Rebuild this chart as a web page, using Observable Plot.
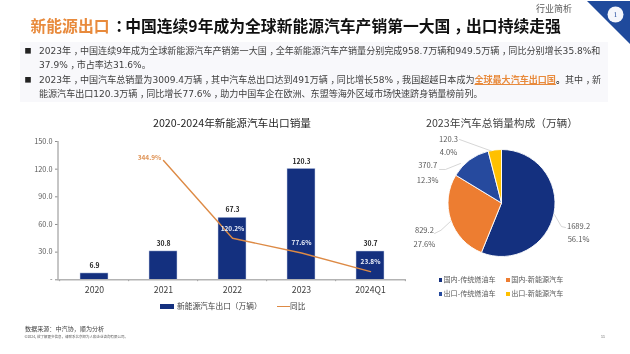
<!DOCTYPE html>
<html lang="zh-CN"><head><meta charset="utf-8">
<script src="https://cdn.jsdelivr.net/npm/d3@7"></script>
<script src="https://cdn.jsdelivr.net/npm/@observablehq/plot@0.6"></script>
<style>
html,body{margin:0;padding:0;background:#fff}
#page{position:relative;width:630px;height:354px;overflow:hidden;font-family:"Noto Sans CJK SC","Noto Sans",sans-serif;color:#262626;filter:blur(0.3px)}
.a{position:absolute;white-space:nowrap;line-height:1}
.chart{position:absolute}
.chart svg{display:block;overflow:visible;background:transparent}
#box{position:absolute;left:20px;top:42px;width:588px;height:60px;background:#f8f8fb}
.p{font-feature-settings:"palt";padding-left:.36em;padding-right:.13em}
</style></head><body>
<div id="page"></div>
<script>
// ---- data ----
const years = ["2020","2021","2022","2023","2024Q1"];
const exportsNev = [6.9,30.8,67.3,120.3,30.7];
const yoyYears = ["2021","2022","2023","2024Q1"];
const yoy = [344.9,120.2,77.6,23.8];
const yTicks = [0,30,60,90,120,150];
const pieNames = ["国内-传统燃油车","国内-新能源汽车","出口-传统燃油车","出口-新能源汽车"];
const pieValues = [1689.2,829.2,370.7,120.3];
const piePercents = ["56.1%","27.6%","12.3%","4.0%"];
const pieColors = ["#14307f","#ed7d31","#264a9e","#ffc000"];
const titleHead = "新能源出口";
const titleRest = "：中国连续9年成为全球新能源汽车产销第一大国，出口持续走强";

const page = document.getElementById("page");
const mid = s => s.replace(/[，：]/g,'<span class="p">$&</span>');
function put(text, left, top, size, css=""){
  const d=document.createElement("div");d.className="a";
  d.style.cssText=`left:${left}px;top:${top}px;font-size:${size}px;${css}`;
  d.innerHTML=text;page.appendChild(d);return d;
}
// ---- header ----
const box=document.createElement("div");box.id="box";page.appendChild(box);
const tri=document.createElementNS("http://www.w3.org/2000/svg","svg");
tri.setAttribute("width",630);tri.setAttribute("height",60);tri.style.cssText="position:absolute;left:0;top:0";
tri.innerHTML=`<path d="M587 1L630 1L630 44Z" fill="#1f4a9c"/><circle cx="615.5" cy="14.5" r="8" fill="#f4f6fb"/><text x="615.5" y="17" text-anchor="middle" font-size="6.5" font-family="DejaVu Serif,serif" fill="#1f4a9c">1</text>`;
page.appendChild(tri);
put("行业简析",536,3.5,9,"color:#595959");
put(`<span style="color:#e88a3c">${titleHead}</span><span style="color:#111">${mid(titleRest)}</span>`,30.5,17.5,15.8,"font-weight:700;");
const lh=9.06;
const lines=[
 [39,46.5,"2023年，中国连续9年成为全球新能源汽车产销第一大国，全年新能源汽车产销量分别完成958.7万辆和949.5万辆，同比分别增长35.8%和"],
 [39,61,"37.9%，市占率达31.6%。"],
 [39,75.5,'2023年，中国汽车总销量为3009.4万辆，其中汽车总出口达到491万辆，同比增长58%，我国超越日本成为<b style="color:#e88a3c;text-decoration:underline">全球最大汽车出口国</b><b>。</b>其中，新'],
 [39,90,"能源汽车出口120.3万辆，同比增长77.6%，助力中国车企在欧洲、东盟等海外区域市场快速跻身销量榜前列。"]
];
lines.forEach(([l,t,s])=>put(mid(s),l,t,lh,'color:#404040;font-family:"DejaVu Sans","Noto Sans CJK SC",sans-serif'));
[51,80].forEach(y=>put("■",24.5,y-4,7,"color:#222"));

// ---- titles, legends, footer ----
put("2020-2024年新能源汽车出口销量",153,118,10.7,"color:#262626");
put("2023年汽车总销量构成（万辆）",426,118,10.7,"color:#404040");
const sw=(l,t,w,h,c)=>{const d=document.createElement("div");d.style.cssText=`position:absolute;left:${l}px;top:${t}px;width:${w}px;height:${h}px;background:${c}`;page.appendChild(d)};
sw(160,303.5,14,5,"#14307f");
put("新能源汽车出口（万辆）",177,302,7.7,"color:#404040");
sw(276.5,305.5,13,1.4,"#dd8a45");
put("同比",290,302,7.7,"color:#404040");
[[439,276],[506.7,276],[439,290],[506.7,290]].forEach(([x,y],i)=>{
  sw(x-0.5,y+2,3.6,3.6,pieColors[i]);
  put(pieNames[i],x+4.5,y,7.1,"color:#595959");
});
put("数据来源：中汽协，顺为分析",25,326,6.1,"color:#404040");
put("©2024, 欲了解更多信息，请联系北京顺为人和企业咨询有限公司。",24.5,335,3.5,"color:#595959");
put("11",601,335,3.5,"color:#595959");

// ---- bar + line chart ----
const rows = years.map((y,i)=>({y,v:exportsNev[i]}));
const lineRows = yoyYears.map((y,i)=>({y,r:yoy[i]}));
const toLeft = r => r*150/400;           // secondary axis 0-400% shares the plot height
const mT=11,mL=57.5,W=420,H=170,mB=20.7,mR=14;
const step=(W-mL-mR)/years.length;
const barChart = Plot.plot({
  width:W,height:H,marginLeft:mL,marginRight:mR,marginTop:mT,marginBottom:mB,
  style:{fontFamily:'"Noto Sans CJK SC"',background:"transparent"},
  x:{domain:years,type:"band",paddingInner:0.59,paddingOuter:0.295,label:null},
  y:{domain:[0,150],label:null},
  marks:[
    Plot.frame({anchor:"left",stroke:"#8c8c8c"}),
    Plot.barY(rows,{x:"y",y:"v",fill:"#14307f",stroke:"#c9d4ea",strokeWidth:0.5}),
    Plot.ruleX(years,{x:d=>d,y1:0,y2:-2,dx:-step/2,stroke:"#8c8c8c"}),
    Plot.ruleX(["2024Q1"],{x:d=>d,y1:0,y2:-2,dx:step/2,stroke:"#8c8c8c"}),
    Plot.ruleY([0],{stroke:"#b3b3b3",strokeWidth:1.4}),
    Plot.axisY({ticks:yTicks,tickSize:2.5,tickPadding:3,tickFormat:v=>v===0?"-":v.toFixed(1),fontSize:7.3,color:"#595959",stroke:"#8c8c8c",label:null}),
    Plot.axisX({tickSize:0,tickPadding:7.5,fontSize:8.7,color:"#404040",label:null}),
    Plot.text(rows,{x:"y",y:"v",text:d=>d.v.toFixed(1),dy:-7.5,fontSize:6.8,fontWeight:700,fill:"#262626"}),
    Plot.line(lineRows,{x:"y",y:d=>toLeft(d.r),stroke:"#dd8a45",strokeWidth:1.4}),
    Plot.text(lineRows.slice(0,1),{x:"y",y:d=>toLeft(d.r),text:d=>d.r.toFixed(1)+"%",dx:-14,dy:-3,fontSize:6.5,fontWeight:700,fill:"#e0965a"}),
    Plot.text(lineRows.slice(1),{x:"y",y:d=>toLeft(d.r),text:d=>d.r.toFixed(1)+"%",dy:-9.7,fontSize:6.5,fontWeight:700,fill:"#e8edf8"})
  ]
});
const bc=document.createElement("div");bc.className="chart";bc.style.cssText="left:0;top:130px";bc.appendChild(barChart);page.appendChild(bc);

// ---- pie chart (positions below are in pie-radius units) ----
const pieData=d3.pie().sort(null).value(d=>d.v)(pieValues.map((v,i)=>({v,i})));
const labelAt=[[1.43,.43,.68],[-1.45,.505,.766],[-1.39,-.70,-.43],[-1,-1.196,-.944]];
const leaders=[
 [[1.187,.449],[1.11,.43],[.98,.206]],
 [[-1.26,.56],[-1.14,.50],[-.963,.336]],
 [[-1.168,-.636],[-1.056,-.636],[-.776,-.748]],
 [[-.794,-1.196],[-.196,-.98]]
].flatMap((pts,k)=>pts.map(p=>({k,x:p[0],y:p[1]})));
const labels=pieValues.flatMap((v,i)=>[
 {x:labelAt[i][0],y:labelAt[i][1],t:v.toFixed(1)},
 {x:labelAt[i][0],y:labelAt[i][2],t:piePercents[i]}]);
const pie=Plot.plot({
  width:230,height:140,margin:0,
  style:{fontFamily:'"Noto Sans CJK SC"',background:"transparent"},
  x:{domain:[-1,1],range:[48,155],axis:null},
  y:{domain:[-1,1],range:[19.5,126.5],axis:null},
  marks:[
    (index,{x,y})=>{
      const g=d3.create("svg:g").attr("transform",`translate(${x(0)},${y(0)})`);
      const r=x(1)-x(0);
      const arc=d3.arc().innerRadius(0).outerRadius(r);
      g.selectAll("path").data(pieData).join("path").attr("d",arc)
        .attr("fill",d=>pieColors[d.data.i]).attr("stroke","#fff").attr("stroke-width",0.9);
      return g.node();
    },
    Plot.line(leaders,{x:"x",y:"y",z:"k",stroke:"#c4c4c4",strokeWidth:0.7}),
    Plot.text(labels,{x:"x",y:"y",text:"t",fontSize:7.6,fill:"#595959"})
  ]
});
const pc=document.createElement("div");pc.className="chart";pc.style.cssText="left:400px;top:130px";pc.appendChild(pie);page.appendChild(pc);
</script></body></html>
